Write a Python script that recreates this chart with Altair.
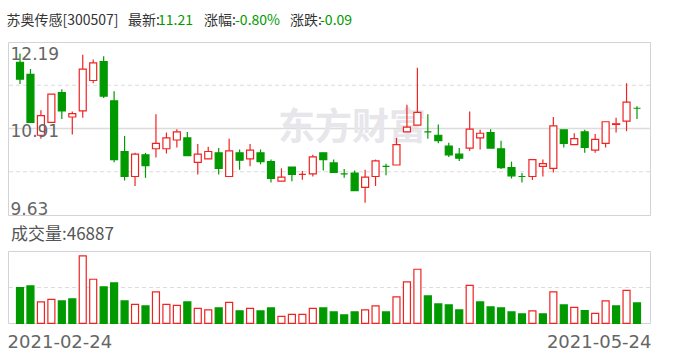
import altair as alt
import pandas as pd

# ---- data (60 trading days) ----
opens = [11.89, 11.71, 10.81, 11.00, 11.44, 11.08, 11.17, 11.62, 11.90, 11.32,
         10.57, 10.20, 10.52, 10.61, 10.61, 10.74, 10.77, 10.41, 10.46, 10.55,
         10.20, 10.55, 10.46, 10.55, 10.42, 10.13, 10.34, 10.23, 10.24, 10.55,
         10.40, 10.24, 10.25, 10.04, 10.20, 10.35, 10.37, 10.86, 10.96, 10.86,
         10.81, 10.65, 10.53, 10.62, 10.77, 10.85, 10.61, 10.33, 10.20, 10.20,
         10.35, 10.32, 10.89, 10.67, 10.86, 10.59, 10.69, 10.97, 11.02, 11.21]
highs = [12.02, 11.79, 11.18, 11.42, 11.49, 11.16, 12.00, 11.93, 11.98, 11.46,
         10.80, 10.55, 10.55, 11.12, 10.85, 10.90, 10.86, 10.68, 10.64, 10.62,
         10.76, 10.60, 10.68, 10.60, 10.45, 10.32, 10.34, 10.28, 10.52, 10.55,
         10.45, 10.31, 10.29, 10.30, 10.45, 10.39, 10.77, 11.26, 11.81, 11.12,
         10.97, 10.70, 10.62, 11.16, 10.89, 10.90, 10.73, 10.42, 10.25, 10.45,
         10.45, 11.08, 10.89, 10.84, 10.89, 10.83, 11.01, 11.07, 11.58, 11.24]
lows = [11.57, 11.00, 10.76, 11.00, 11.05, 10.82, 11.07, 11.58, 11.36, 10.41,
        10.14, 10.06, 10.18, 10.48, 10.54, 10.63, 10.51, 10.23, 10.46, 10.23,
        10.20, 10.30, 10.35, 10.38, 10.11, 10.13, 10.13, 10.15, 10.20, 10.29,
        10.26, 10.18, 9.99, 9.81, 10.06, 10.22, 10.37, 10.86, 10.96, 10.76,
        10.69, 10.49, 10.43, 10.58, 10.60, 10.62, 10.31, 10.17, 10.11, 10.15,
        10.20, 10.26, 10.63, 10.67, 10.55, 10.55, 10.63, 10.85, 10.87, 11.05]
closes = [11.64, 11.00, 11.10, 11.42, 11.17, 11.13, 11.79, 11.88, 11.39, 10.45,
          10.20, 10.53, 10.36, 10.69, 10.77, 10.86, 10.51, 10.53, 10.57, 10.32,
          10.58, 10.44, 10.59, 10.42, 10.17, 10.19, 10.23, 10.23, 10.49, 10.45,
          10.26, 10.24, 9.99, 10.19, 10.43, 10.35, 10.67, 10.93, 11.15, 10.86,
          10.73, 10.52, 10.47, 10.90, 10.84, 10.62, 10.33, 10.21, 10.20, 10.45,
          10.39, 10.95, 10.69, 10.76, 10.63, 10.75, 11.01, 10.98, 11.30, 11.21]
volumes = [82240, 86080, 49190, 55340, 51500, 56110, 155260, 101460, 83780, 93000,
           51500, 43810, 39970, 72250, 43810, 41500, 49190, 34590, 30740, 35360,
           48420, 28440, 34590, 28440, 35360, 16140, 20750, 20750, 34590, 35360,
           26130, 19220, 26130, 30740, 39970, 26130, 60720, 95310, 124510, 63030,
           44580, 42270, 30740, 87620, 49190, 37660, 35360, 26130, 21520, 28440,
           21520, 72250, 42270, 36890, 29210, 23060, 51500, 39970, 76090, 46887]
prev_close_first = 11.80

price_labels = [12.19, 10.91, 9.63]
dashed_levels = [11.55, 10.27]
solid_levels = [10.91]
vol_top = 165000
start_date = "2021-02-24"
end_date = "2021-05-24"
stock_name = "苏奥传感"
stock_code = "300507"
watermark = "东方财富"

# ---- styling ----
RED = "#f02323"
GREEN = "#009a00"
GRID = "#dcdcdc"
BORDER = "#d2d2d8"
LABEL = "#666666"
CJK = "Noto Sans CJK SC"
LAT = "DejaVu Sans"

n = len(closes)
body_dir, vol_dir = [], []
prev = prev_close_first
for k in range(n):
    o, c = opens[k], closes[k]
    if c > o:
        bd = "up"
    elif c < o:
        bd = "down"
    else:
        bd = "up" if c >= prev else "down"
    body_dir.append(bd)
    vol_dir.append("up" if c >= prev else "down")
    prev = c

df = pd.DataFrame({"i": list(range(n)), "open": opens, "high": highs, "low": lows,
                   "close": closes, "volume": volumes, "bdir": body_dir, "vdir": vol_dir})

X = alt.X("i:Q", scale=alt.Scale(domain=[0, n - 1], range=[15, 642], nice=False, zero=False), axis=None)
p_lo, p_hi = min(price_labels), max(price_labels)


def PY(field):
    return alt.Y(field, type="quantitative",
                 scale=alt.Scale(domain=[p_lo, p_hi], range=[215, 42], nice=False, zero=False),
                 axis=None)


def VY(field):
    return alt.Y(field, type="quantitative",
                 scale=alt.Scale(domain=[0, vol_top], range=[323.3, 251.7], nice=False, zero=True),
                 axis=None)


dir_scale_fill = alt.Scale(domain=["up", "down"], range=["#ffffff", GREEN])
dir_scale_stroke = alt.Scale(domain=["up", "down"], range=[RED, GREEN])

one = pd.DataFrame({"k": [0]})

# panel frames
frame_top = alt.Chart(one).mark_rect(fillOpacity=0, stroke=BORDER, strokeWidth=1).encode(
    x=alt.value(8.5), x2=alt.value(650.5), y=alt.value(42.5), y2=alt.value(215.5))
frame_bot = alt.Chart(one).mark_rect(fillOpacity=0, stroke=BORDER, strokeWidth=1).encode(
    x=alt.value(8.5), x2=alt.value(650.5), y=alt.value(251.5), y2=alt.value(323.5))

grid_dash = alt.Chart(pd.DataFrame({"v": dashed_levels})).mark_rule(
    color=GRID, strokeWidth=1.2, strokeDash=[4, 3]).encode(
    x=alt.value(9), x2=alt.value(650), y=PY("v"))
grid_solid = alt.Chart(pd.DataFrame({"v": solid_levels})).mark_rule(
    color=GRID, strokeWidth=1.5).encode(
    x=alt.value(9), x2=alt.value(650), y=PY("v"))
vol_grid = alt.Chart(pd.DataFrame({"volume": [vol_top / 2]})).mark_rule(
    color=GRID, strokeWidth=1.2, strokeDash=[4, 3]).encode(
    x=alt.value(9), x2=alt.value(650), y=VY("volume"))

wm = alt.Chart(pd.DataFrame({"t": [watermark]})).mark_text(
    font=CJK, fontSize=37, fontWeight="bold", color="#e6e6eb", align="left", baseline="middle").encode(
    x=alt.value(278), y=alt.value(129), text="t:N")

wicks = alt.Chart(df).mark_rule(strokeWidth=1.2).encode(
    x=X, y=PY("low"), y2=alt.Y2("high"),
    stroke=alt.Stroke("bdir:N", scale=dir_scale_stroke, legend=None))

bodies = alt.Chart(df).mark_bar(size=7, strokeWidth=1.2).encode(
    x=X, y=PY("open"), y2=alt.Y2("close"),
    fill=alt.Fill("bdir:N", scale=dir_scale_fill, legend=None),
    stroke=alt.Stroke("bdir:N", scale=dir_scale_stroke, legend=None))

vbars = alt.Chart(df).mark_bar(size=7, strokeWidth=1.2).encode(
    x=X, y=VY("volume"),
    fill=alt.Fill("vdir:N", scale=dir_scale_fill, legend=None),
    stroke=alt.Stroke("vdir:N", scale=dir_scale_stroke, legend=None))


def label(text, x, y, size, color, font, align="left", baseline="alphabetic"):
    return alt.Chart(pd.DataFrame({"t": [text]})).mark_text(
        font=font, fontSize=size, color=color, align=align, baseline=baseline).encode(
        x=alt.value(x), y=alt.value(y), text="t:N")


last = closes[-1]
chg = last - closes[-2]
pct = chg / closes[-2] * 100

title_layers = [
    label(f"{stock_name}[{stock_code}]", 6.5, 21, 14, "#333333", CJK, baseline="middle"),
    label("最新:", 128, 21, 14, "#333333", CJK, baseline="middle"),
    label(f"{last:.2f}", 158, 21, 14, GREEN, CJK, baseline="middle"),
    label("涨幅:", 204, 21, 14, "#333333", CJK, baseline="middle"),
    label(f"{pct:.2f}%", 235, 21, 14, GREEN, CJK, baseline="middle"),
    label("涨跌:", 290, 21, 14, "#333333", CJK, baseline="middle"),
    label(f"{chg:.2f}", 320, 21, 14, GREEN, CJK, baseline="middle"),
]

dys = [17.5, 8, -0.5]
ylabel_layers = []
for v, dy in zip(price_labels, dys):
    ylabel_layers.append(
        alt.Chart(pd.DataFrame({"v": [v], "t": [f"{v:.2f}"]})).mark_text(
            font=LAT, fontSize=17, color=LABEL, align="left", baseline="alphabetic", dy=dy).encode(
            x=alt.value(10.5), y=PY("v"), text="t:N"))

other_text = [
    label(f"成交量:{volumes[-1]}", 11, 239.5, 17, "#555555", CJK),
    label(start_date, 7.6, 348, 18, LABEL, LAT),
    label(end_date, 651.5, 348, 18, LABEL, LAT, align="right"),
]

chart = alt.layer(
    frame_top, frame_bot, grid_dash, grid_solid, vol_grid, wm,
    wicks, bodies, vbars, *ylabel_layers, *title_layers, *other_text
).resolve_scale(y="independent").properties(
    width=688, height=360, padding=0, background="white",
    autosize=alt.AutoSizeParams(type="none")
).configure_view(strokeWidth=0)

chart.save("out.html", embed_options={"renderer": "svg", "actions": False})
